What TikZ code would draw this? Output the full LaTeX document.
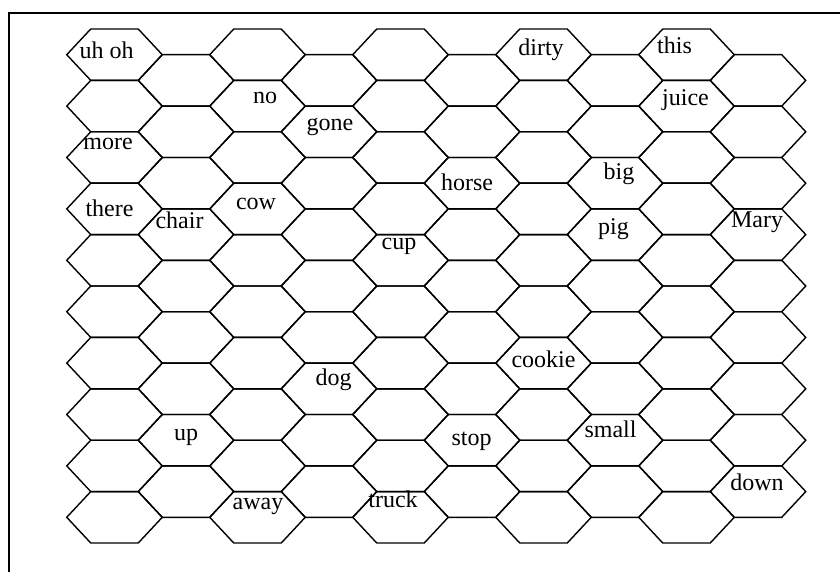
\documentclass[tikz,border=0pt]{standalone}
\usepackage{fontspec}
\setmainfont{Liberation Serif}

\tikzset{
  hexline/.style={line width=1.4pt,line join=miter},
  word/.style={font=\fontsize{24}{26}\selectfont,anchor=base,inner sep=0pt},
}

\begin{document}
\begin{tikzpicture}[x=1pt,y=-1pt]
  \useasboundingbox (0,0) rectangle (840,572);
  \draw[line width=2.6pt] (9,572) -- (9,13) -- (840,13);
  % columns with ten cells
  \foreach \c in {0,2,4,6,8} {
    \foreach \r in {0,...,9} {
      \draw[hexline] ({114.5+71.5*\c},{54.7+51.4*\r}) ++(-47.75,0) -- ++(24,-25.7) -- ++(47.5,0)
        -- ++(24,25.7) -- ++(-24,25.7) -- ++(-47.5,0) -- cycle;
    }
  }
  % columns with nine cells
  \foreach \c in {1,3,5,7,9} {
    \foreach \r in {0,...,8} {
      \draw[hexline] ({114.5+71.5*\c},{80.4+51.4*\r}) ++(-47.75,0) -- ++(24,-25.7) -- ++(47.5,0)
        -- ++(24,25.7) -- ++(-24,25.7) -- ++(-47.5,0) -- cycle;
    }
  }
  \node[word] (uhoh) at (106.5,59) {uh oh};
  \node[word] (no) at (265,104) {no};
  \node[word] (more) at (108,150) {more};
  \node[word] (gone) at (330,130.5) {gone};
  \node[word] (dirty) at (541,56) {dirty};
  \node[word] (horse) at (467,190) {horse};
  \node[word] (this) at (674.5,54) {this};
  \node[word] (juice) at (685.5,106) {juice};
  \node[word] (big) at (619,179) {big};
  \node[word] (there) at (109.5,216.7) {there};
  \node[word] (chair) at (179.5,228) {chair};
  \node[word] (cow) at (256,209) {cow};
  \node[word] (cup) at (399,249) {cup};
  \node[word] (pig) at (613.5,234) {pig};
  \node[word] (mary) at (757,227) {Mary};
  \node[word] (dog) at (333.5,385) {dog};
  \node[word] (cookie) at (543.5,367) {cookie};
  \node[word] (up) at (186,440) {up};
  \node[word] (stop) at (471.5,445) {stop};
  \node[word] (small) at (610.5,437) {small};
  \node[word] (down) at (757,490) {down};
  \node[word] (away) at (258,509) {away};
  \node[word] (truck) at (393,507) {truck};
\end{tikzpicture}
\end{document}
